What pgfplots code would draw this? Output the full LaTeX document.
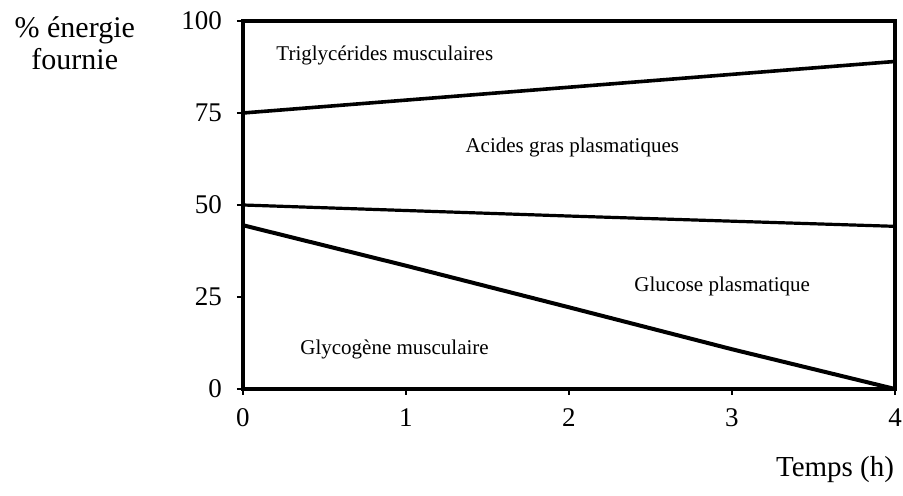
\documentclass[border=0pt]{standalone}
\usepackage{pgfplots}
\pgfplotsset{compat=1.18}
\usepackage{fontspec}
\setmainfont{Liberation Serif}
\begin{document}
\begin{tikzpicture}
\begin{axis}[
  name=ax,
  scale only axis,
  width=326pt, height=184pt,
  xmin=0, xmax=4, ymin=0, ymax=100,
  xtick={0,1,2,3,4}, ytick={0,25,50,75,100},
  xticklabels={0,1,2,3,4}, yticklabels={0,25,50,75,100},
  xtick pos=bottom, ytick pos=left,
  tick align=outside,
  major tick length=3pt,
  every tick/.style={black, line width=1pt},
  axis line style={line width=1.8pt},
  tick label style={font=\fontsize{13.5}{15}\selectfont},
  xticklabel style={anchor=base, yshift=-16pt},
  yticklabel style={xshift=-4pt},
  clip=false,
]
\addplot[black, line width=1.8pt] coordinates {(0,75) (4,89)};
\addplot[black, line width=1.6pt] coordinates {(0,50) (2,47) (4,44.2)};
\addplot[black, line width=2pt] coordinates {(0,44.5) (1,33.5) (2,22.2) (3,10.8) (4,0)};
\node[font=\fontsize{10.5}{12}\selectfont] at (axis cs:0.87,90.5) {Triglycérides musculaires};
\node[font=\fontsize{10.5}{12}\selectfont] at (axis cs:2.02,65.6) {Acides gras plasmatiques};
\node[font=\fontsize{10.5}{12}\selectfont] at (axis cs:2.94,27.9) {Glucose plasmatique};
\node[font=\fontsize{10.5}{12}\selectfont] at (axis cs:0.93,10.8) {Glycogène musculaire};
\node[font=\fontsize{15}{16}\selectfont, align=center] at (rel axis cs:-0.258,0.94) {\% énergie\\fournie};
\node[font=\fontsize{14.5}{16}\selectfont] at (rel axis cs:0.908,-0.22) {Temps (h)};
\end{axis}
\pgfresetboundingbox
\path[use as bounding box] (ax.south west) ++(-121.5pt,-53.5pt) rectangle ++(451.5pt,248pt);
\end{tikzpicture}
\end{document}
